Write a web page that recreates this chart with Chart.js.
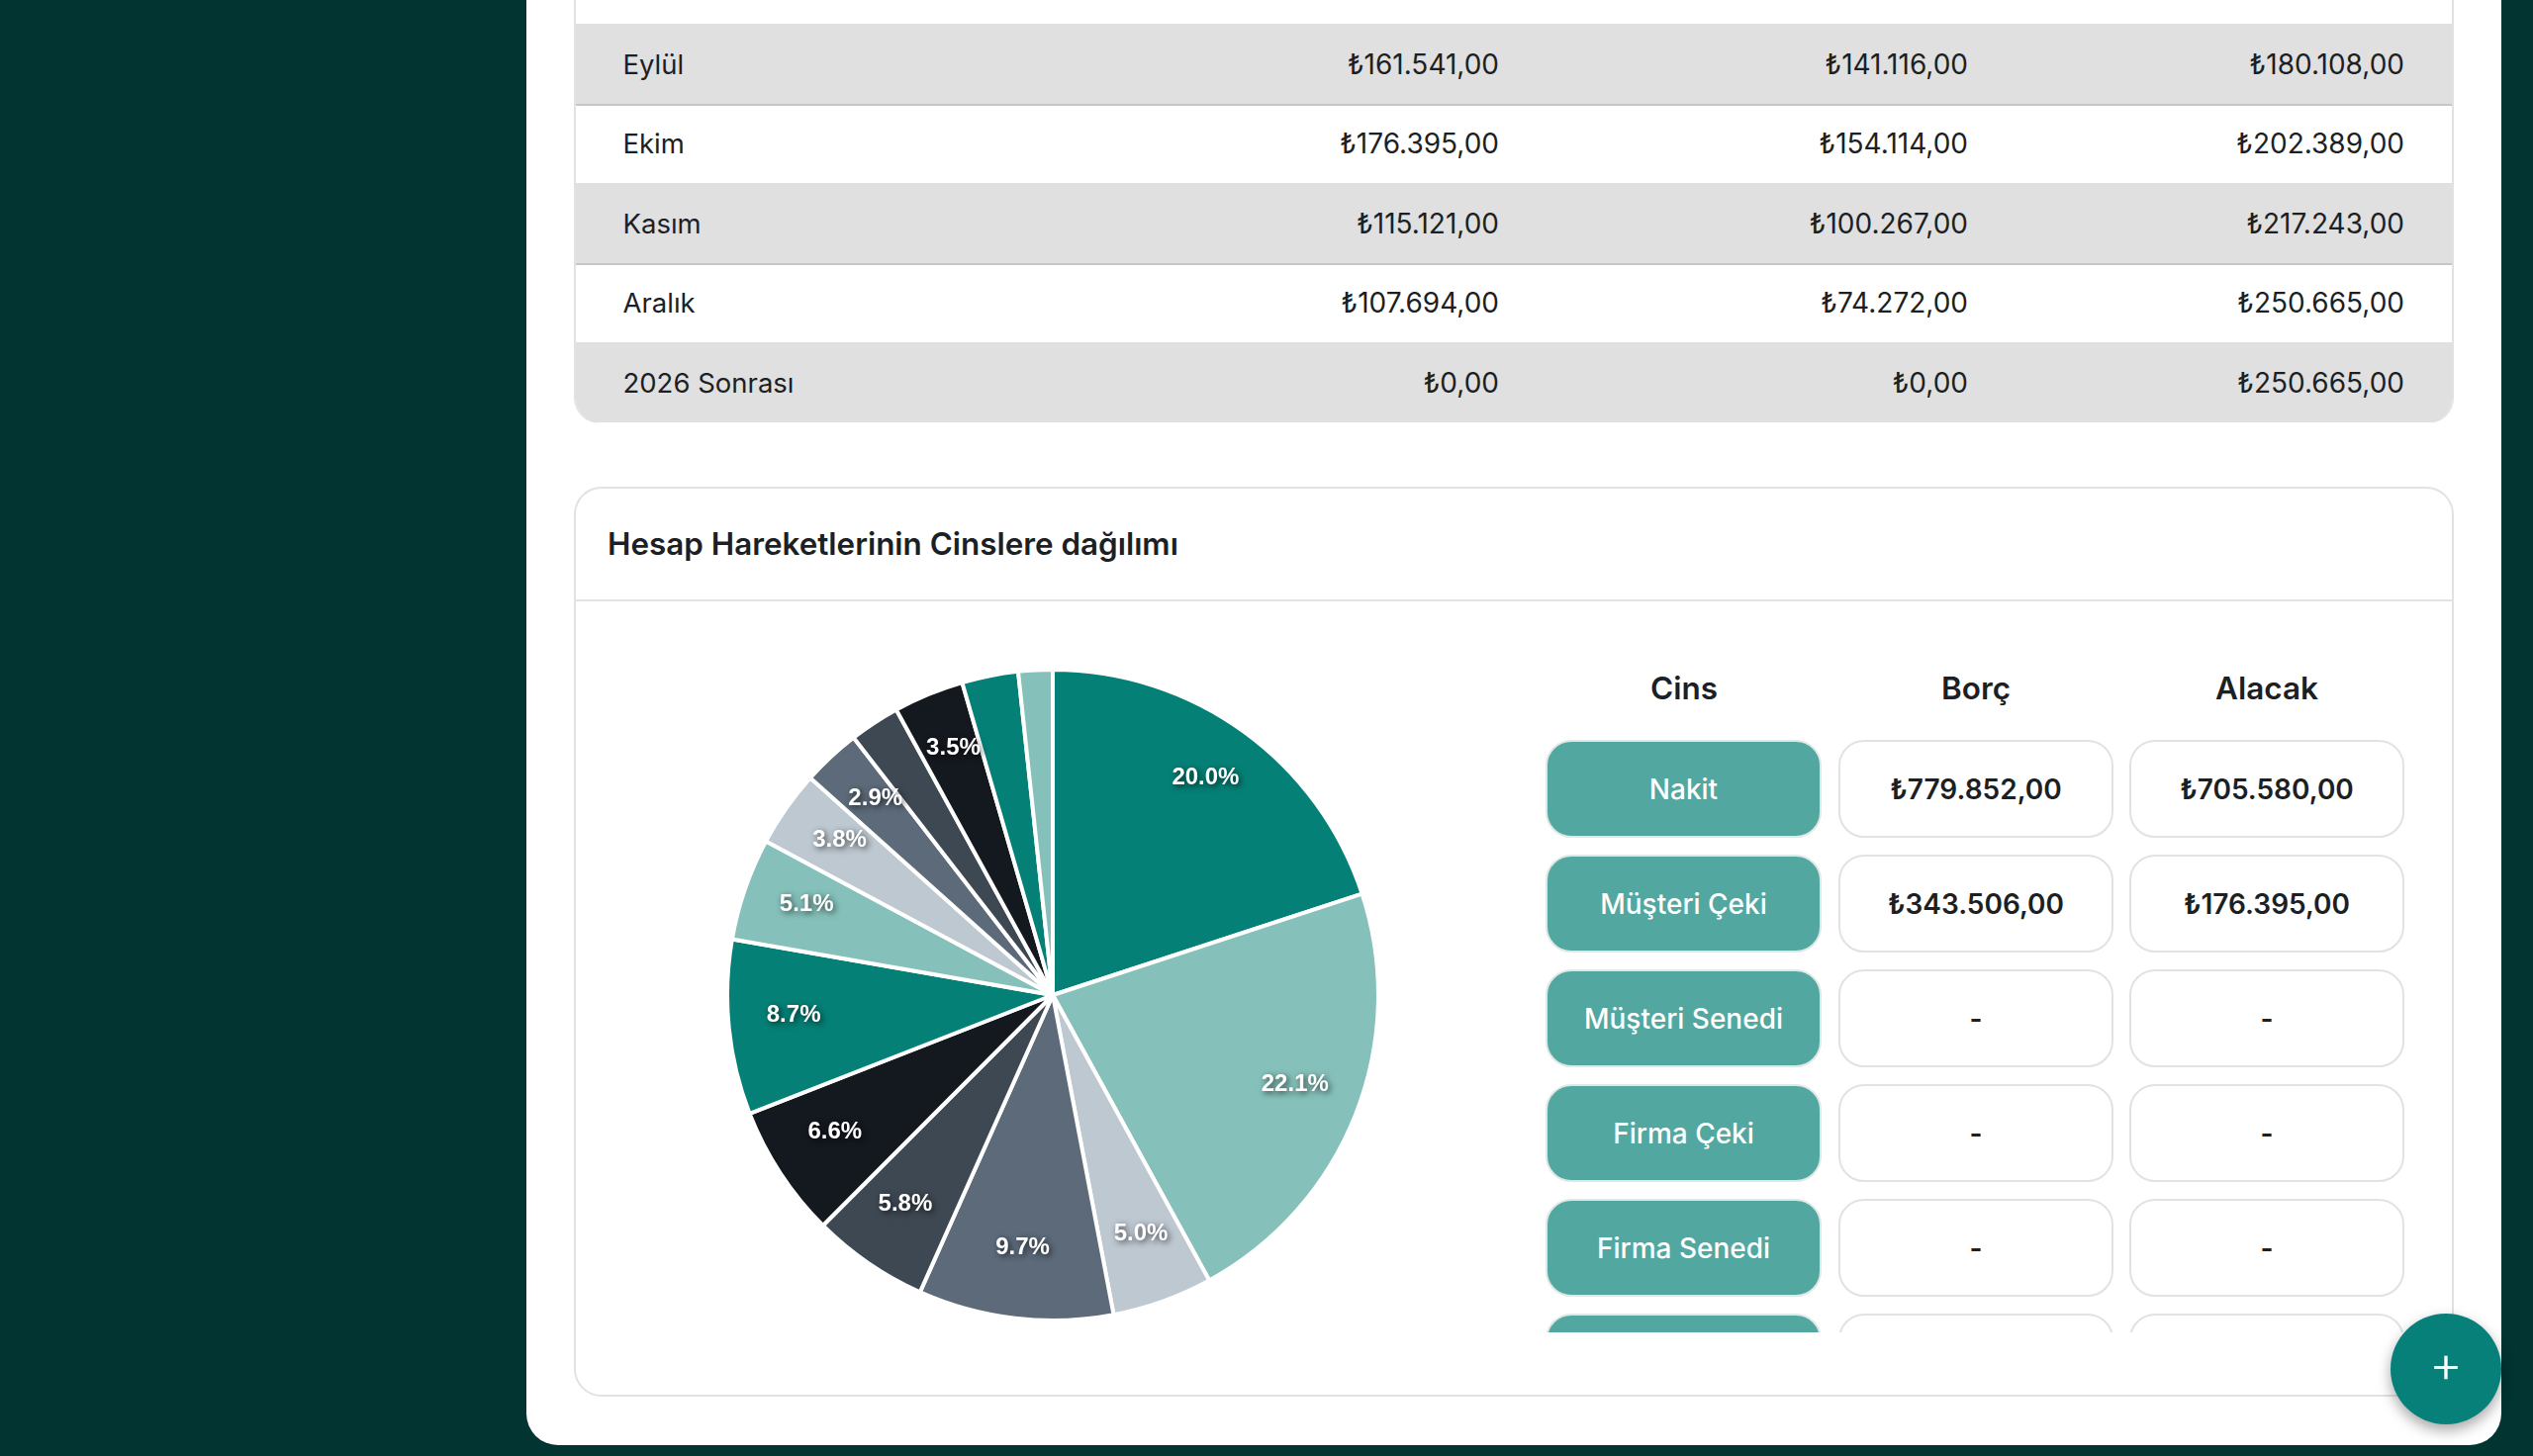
<!DOCTYPE html>
<html lang="tr">
<head>
<meta charset="utf-8">
<title>Hesap Hareketlerinin Cinslere dağılımı</title>
<script src="https://cdn.jsdelivr.net/npm/chart.js@4"></script>
<style>
    html, body { margin: 0; width: 2560px; height: 1472px; overflow: hidden; background: #023432; font-family: Inter, sans-serif; color: #1c1f23; }
    .abs { position: absolute; box-sizing: border-box; }
    #panel { left: 532px; top: -60px; width: 1996px; height: 1521px; background: #fff; border-radius: 0 0 32px 32px; }
    #table { left: 580px; top: -40px; width: 1900px; height: 468px; border: 2px solid #e2e2e2; border-width: 0 2px; border-radius: 0 0 26px 26px; overflow: hidden; }
    .row { position: absolute; left: 0; right: 0; font-size: 28px; }
    .row.band { background: #e0e0e0; }
    .row.line { border-bottom: 2px solid #c6c6c6; }
    .row span { position: absolute; top: 50%; transform: translateY(-50%); white-space: nowrap; }
    .row span.month { font-size: 27.5px; }
    #card { left: 580px; top: 492px; width: 1900px; height: 920px; border: 2px solid #e2e2e2; border-radius: 28px; }
    #cardHead { left: 0; top: 0; right: 0; height: 114px; border-bottom: 2px solid #e2e2e2; }
    #cardTitle { left: 32px; top: 37px; font-size: 31.4px; font-weight: 600; white-space: nowrap; }
    #pie { position: absolute; left: 733px; top: 675px; }
    .head { top: 676px; width: 278px; text-align: center; font-size: 31.5px; font-weight: 600; }
    #list { left: 1560px; top: 745px; width: 880px; height: 602px; overflow: hidden; }
    .pill { position: absolute; box-sizing: border-box; width: 278px; height: 99px; border-radius: 26px; border: 2px solid #e2e2e2; display: flex; align-items: center; justify-content: center; font-size: 28px; font-weight: 600; }
    .pill.name { width: 279px; background: #52a8a0; color: #fff; border-color: #dfe8e6; font-weight: 500; }
    #fab { left: 2416px; top: 1328px; width: 112px; height: 112px; padding-bottom: 12px; border-radius: 50%; background: #07807a; box-shadow: 0 6px 14px rgba(0,0,0,.35); color: #fff; font-size: 52px; font-weight: 300; display: flex; align-items: center; justify-content: center; }
</style>
</head>
<body>
<div class="abs" id="panel"></div>
<div class="abs" id="table"></div>
<div class="abs" id="card">
    <div class="abs" id="cardHead"><div class="abs" id="cardTitle">Hesap Hareketlerinin Cinslere dağılımı</div></div>
</div>
<canvas id="pie" width="662" height="662"></canvas>
<div class="abs head" style="left:1563px">Cins</div>
<div class="abs head" style="left:1858px">Borç</div>
<div class="abs head" style="left:2152px">Alacak</div>
<div class="abs" id="list"></div>
<div class="abs" id="fab">+</div>

<script>
// top table
const monthNames = ['Eylül', 'Ekim', 'Kasım', 'Aralık', '2026 Sonrası'];
const monthDebit = ['₺161.541,00', '₺176.395,00', '₺115.121,00', '₺107.694,00', '₺0,00'];
const monthCredit = ['₺141.116,00', '₺154.114,00', '₺100.267,00', '₺74.272,00', '₺0,00'];
const monthBalance = ['₺180.108,00', '₺202.389,00', '₺217.243,00', '₺250.665,00', '₺250.665,00'];

// list next to the pie
const typeNames = ['Nakit', 'Müşteri Çeki', 'Müşteri Senedi', 'Firma Çeki', 'Firma Senedi', ''];
const typeDebit = ['₺779.852,00', '₺343.506,00', '-', '-', '-', ''];
const typeCredit = ['₺705.580,00', '₺176.395,00', '-', '-', '-', ''];

// pie slices, clockwise from the top (percent)
const sliceValues = [20.0, 22.1, 5.0, 9.7, 5.8, 6.6, 8.7, 5.1, 3.8, 2.9, 2.5, 3.5, 2.8, 1.7];

const palette = ['#058076', '#85c1ba', '#bec8d1', '#5c6a79', '#3e4852', '#14181f'];
const LABELLED = [true, true, true, true, true, true, true, true, true, true, false, true, false, false];

function buildTable() {
    const table = document.getElementById('table');
    monthNames.forEach((name, i) => {
        const row = document.createElement('div');
        row.className = 'row' + (i % 2 === 0 ? ' band' : '') + (i === 0 || i === 2 ? ' line' : '');
        row.style.top = (64 + i * 80.6) + 'px';
        row.style.height = '81px';
        const cells = [[name, 'left:47.5px', 'month'], [monthDebit[i], 'right:963px', ''], [monthCredit[i], 'right:489px', ''], [monthBalance[i], 'right:48px', '']];
        cells.forEach(([text, pos, cls]) => {
            const span = document.createElement('span');
            span.textContent = text;
            span.className = cls;
            span.style.cssText = pos;
            row.appendChild(span);
        });
        table.appendChild(row);
    });
}

function buildList() {
    const list = document.getElementById('list');
    typeNames.forEach((name, i) => {
        [[name, 2, ' name'], [typeDebit[i], 298, ''], [typeCredit[i], 592, '']].forEach(([text, left, cls]) => {
            const pill = document.createElement('div');
            pill.className = 'pill' + cls;
            pill.textContent = text;
            pill.style.left = left + 'px';
            pill.style.top = (3 + i * 116) + 'px';
            list.appendChild(pill);
        });
    });
}

// datalabels plugin isn't available here, so draw the percents ourselves
const sliceLabelPlugin = {
    id: 'sliceLabels',
    afterDraw: (chart) => {
        const { ctx } = chart;
        const arcs = chart.getDatasetMeta(0).data;
        ctx.save();
        ctx.font = 'bold 24px "Liberation Sans", sans-serif';
        ctx.fillStyle = '#fff';
        ctx.textAlign = 'center';
        ctx.textBaseline = 'middle';
        ctx.shadowColor = 'rgba(0,0,0,0.7)';
        ctx.shadowBlur = 6;
        ctx.shadowOffsetX = 2;
        ctx.shadowOffsetY = 2;
        arcs.forEach((arc, i) => {
            if (!LABELLED[i]) return;
            const { x, y, startAngle, endAngle, outerRadius } = arc.getProps(['x', 'y', 'startAngle', 'endAngle', 'outerRadius'], true);
            const mid = (startAngle + endAngle) / 2;
            const r = outerRadius * 0.8;
            // labels sit a little above the radial midpoint in the original
            ctx.fillText(sliceValues[i].toFixed(1) + '%', x + Math.cos(mid) * r, y + Math.sin(mid) * r - 6);
        });
        ctx.restore();
    }
};

buildTable();
buildList();

new Chart(document.getElementById('pie'), {
    type: 'pie',
    plugins: [sliceLabelPlugin],
    data: {
        labels: sliceValues.map((v, i) => String(i + 1)),
        datasets: [{
            data: sliceValues,
            backgroundColor: sliceValues.map((v, i) => palette[i % palette.length]),
            borderColor: '#fff',
            borderWidth: 4
        }]
    },
    options: {
        responsive: false,
        animation: false,
        plugins: { legend: { display: false }, tooltip: { enabled: false } }
    }
});
</script>
</body>
</html>
